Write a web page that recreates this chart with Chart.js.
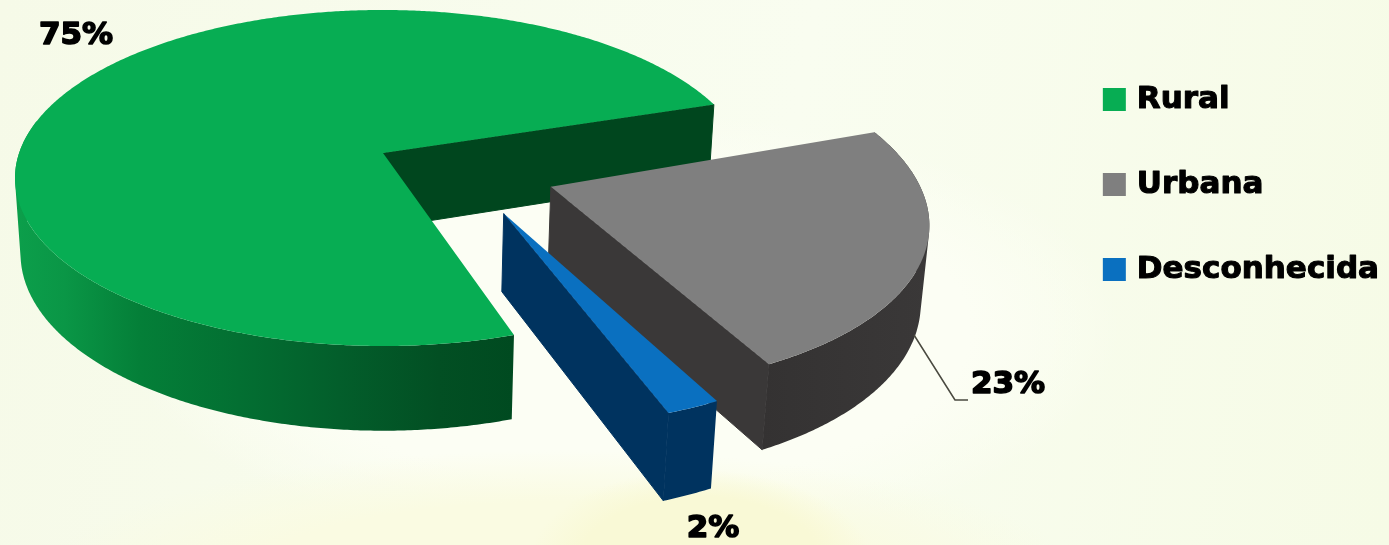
<!DOCTYPE html>
<html>
<head>
<meta charset="utf-8">
<title>Rural / Urbana</title>
<script src="https://cdn.jsdelivr.net/npm/chart.js@4"></script>
<style>
  html, body { margin: 0; padding: 0; width: 1389px; height: 545px; overflow: hidden; }
  body {
    background-color: #f8fcec;
    background-image:
      radial-gradient(ellipse 170px 90px at 700px 560px, #f9f9d6 0%, #f9f9d6 70%, rgba(249,250,220,0) 100%),
      radial-gradient(ellipse 520px 130px at 560px 580px, #fafbe2 0%, #fafbe2 60%, rgba(250,251,226,0) 100%),
      radial-gradient(ellipse 500px 220px at 620px 330px, #fcfef4 0%, #fcfef4 70%, rgba(252,254,244,0) 100%),
      linear-gradient(100deg, #f6fae8 0%, #f9fdf0 55%, #f6fbe6 100%);
  }
  canvas { display: block; }
</style>
</head>
<body>
<canvas id="chart" width="1389" height="545"></canvas>
<script>
const categories = ['Rural', 'Urbana', 'Desconhecida'];
const shares = [75, 23, 2];
const topColors = ['#07ad53', '#7f7f7f', '#0a70c0'];

// exploded slices: distance in pie radii, direction in degrees, own radius,
// small turn in degrees about the slice's own apex
const explodeDist = [0, 0.49, 0.47];
const explodeDir = [0, 24, 48];
const sliceRadius = [1, 0.985, 0.985];
const sliceTurn = [0, -1.5, -1];

const cutColors = ['#00461e', '#3a3838', '#00335f'];
const wallStops = [
  [[0, '#0c9f4b'], [0.1, '#0a9646'], [0.25, '#047f38'], [0.45, '#036f32'], [0.65, '#035e2b'], [0.85, '#024f23'], [1, '#004a20']],
  [[0, '#343232'], [1, '#3a3838']],
  [[0, '#00335f'], [1, '#00335f']]
];

const labelSpots = [[76, 36], [1008, 385], [713, 529]];

// perspective of the pie plane; lift scales the depth less than the plane
const view = { cx: 383, cy: 153, r: 363.9, b: 164.3, k: 0.1488, depth: 97.5, lift: 0.3, shrink: 0.015 };

function project(u, v, z) {
  const w = 1 - view.k * v;
  return [
    view.cx + view.r * u / (w + view.shrink * z),
    view.cy + view.b * v / w + view.depth * z / (w + view.lift)
  ];
}

function tracePath(ctx, pts) {
  ctx.beginPath();
  pts.forEach((p, i) => i ? ctx.lineTo(p[0], p[1]) : ctx.moveTo(p[0], p[1]));
  ctx.closePath();
}

// one quad per step, all wound the same way so they union under nonzero fill
function traceBand(ctx, upper, lower) {
  ctx.beginPath();
  for (let i = 0; i < upper.length - 1; i++) {
    let q = [upper[i], upper[i + 1], lower[i + 1], lower[i]];
    let area = 0;
    q.forEach((p, j) => {
      const n = q[(j + 1) % 4];
      area += p[0] * n[1] - n[0] * p[1];
    });
    if (area < 0) q = q.reverse();
    q.forEach((p, j) => j ? ctx.lineTo(p[0], p[1]) : ctx.moveTo(p[0], p[1]));
    ctx.closePath();
  }
}

const pie3d = {
  id: 'pie3d',
  // the arcs keep their angles from the library, only the painting is replaced
  beforeDatasetDraw(chart, args) {
    const ctx = chart.ctx;
    ctx.lineWidth = 1;
    ctx.lineJoin = 'round';
    args.meta.data.forEach((arc, i) => {
      const dir = explodeDir[i] * Math.PI / 180;
      const ox = explodeDist[i] * Math.cos(dir);
      const oy = explodeDist[i] * Math.sin(dir);
      const rad = sliceRadius[i];
      const rim = (a, z) => project(ox + rad * Math.cos(a), oy + rad * Math.sin(a), z);
      const turn = sliceTurn[i] * Math.PI / 180;
      const start = arc.startAngle + turn, end = arc.endAngle + turn;
      const steps = Math.ceil((end - start) / 0.008);

      // cut face on the clockwise end of the slice
      ctx.fillStyle = ctx.strokeStyle = cutColors[i];
      tracePath(ctx, [project(ox, oy, 0), rim(end, 0), rim(end, 1), project(ox, oy, 1)]);
      ctx.fill();
      ctx.stroke();

      // outer wall; the far side stays out so it can't cover the cut face
      const angles = [];
      for (let s = 0; s <= steps; s++) {
        const a = start + (end - start) * s / steps;
        if (oy + rad * Math.sin(a) > -0.2) angles.push(a);
      }
      const upper = angles.map(a => rim(a, 0));
      const lower = angles.map(a => rim(a, 1));
      const xs = upper.concat(lower).map(p => p[0]);
      const grad = ctx.createLinearGradient(Math.min(...xs), 0, Math.max(...xs), 0);
      wallStops[i].forEach(s => grad.addColorStop(s[0], s[1]));
      ctx.fillStyle = grad;
      traceBand(ctx, upper, lower);
      ctx.fill();

      // top face
      const top = [project(ox, oy, 0)];
      for (let s = 0; s <= steps; s++) top.push(rim(start + (end - start) * s / steps, 0));
      ctx.fillStyle = arc.options.backgroundColor;
      tracePath(ctx, top);
      ctx.fill();
    });
    return false;
  },
  afterDraw(chart) {
    const ctx = chart.ctx;
    ctx.save();

    // leader line of the Urbana label
    ctx.strokeStyle = '#4a4a40';
    ctx.lineWidth = 1.5;
    ctx.beginPath();
    ctx.moveTo(914, 335);
    ctx.lineTo(955, 400);
    ctx.lineTo(968, 400);
    ctx.stroke();

    ctx.fillStyle = '#000';
    ctx.strokeStyle = '#000';
    ctx.lineWidth = 1.6;
    ctx.lineJoin = 'round';
    ctx.font = 'bold 31px "DejaVu Sans"';
    ctx.textAlign = 'center';
    ctx.textBaseline = 'middle';
    shares.forEach((v, i) => {
      ctx.fillText(v + '%', labelSpots[i][0], labelSpots[i][1]);
      ctx.strokeText(v + '%', labelSpots[i][0], labelSpots[i][1]);
    });

    // heavier legend text
    const legend = chart.legend;
    const opts = legend.options.labels;
    ctx.lineWidth = 1.1;
    ctx.font = 'bold ' + opts.font.size + 'px "DejaVu Sans"';
    ctx.textAlign = 'left';
    legend.legendItems.forEach((item, i) => {
      const box = legend.legendHitBoxes[i];
      ctx.strokeText(item.text, box.left + opts.boxWidth + opts.font.size / 2, box.top + box.height / 2);
    });
    ctx.restore();
  }
};

new Chart(document.getElementById('chart').getContext('2d'), {
  type: 'pie',
  data: {
    labels: categories,
    datasets: [{ data: shares, backgroundColor: topColors, borderWidth: 0 }]
  },
  plugins: [pie3d],
  options: {
    responsive: false,
    animation: false,
    rotation: 162,
    layout: { padding: { top: 30, right: 0 } },
    plugins: {
      tooltip: { enabled: false },
      legend: {
        position: 'right',
        align: 'start',
        labels: {
          color: '#000',
          usePointStyle: true,
          pointStyle: 'rect',
          boxWidth: 14,
          boxHeight: 23,
          padding: 54,
          font: { family: '"DejaVu Sans"', size: 31, weight: 'bold' }
        }
      }
    }
  }
});
</script>
</body>
</html>
